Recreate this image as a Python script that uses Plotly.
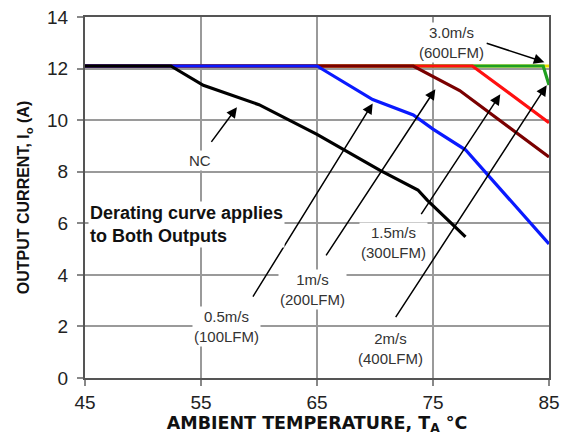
import plotly.graph_objects as go

# ---- data ----
nc_x = [45, 52.4, 55.2, 60, 65, 70.4, 73.7, 74.5, 77.8]
nc_y = [12.1, 12.1, 11.35, 10.6, 9.45, 8.06, 7.29, 6.9, 5.47]

ms05_x = [45, 65, 69.8, 73.3, 75, 77.8, 85]
ms05_y = [12.1, 12.1, 10.8, 10.2, 9.65, 8.85, 5.2]

ms1_x = [45, 73.3, 77.3, 85]
ms1_y = [12.1, 12.1, 11.15, 8.57]

ms15_x = [45, 78.4, 85]
ms15_y = [12.1, 12.1, 9.9]

ms2_x = [45, 84.5, 85]
ms2_y = [12.1, 12.1, 11.36]

ms3_x = [45, 85]
ms3_y = [12.1, 12.1]

x_ticks = [45, 55, 65, 75, 85]
y_ticks = [0, 2, 4, 6, 8, 10, 12, 14]

# draw order: bottom first
series = [
    ("3.0m/s", ms3_x, ms3_y, "#E8E000"),
    ("2m/s", ms2_x, ms2_y, "#1FA01F"),
    ("1.5m/s", ms15_x, ms15_y, "#FF1010"),
    ("1m/s", ms1_x, ms1_y, "#7A0000"),
    ("0.5m/s", ms05_x, ms05_y, "#0A1AFF"),
    ("NC", nc_x, nc_y, "#000000"),
]

fig = go.Figure()
for name, xs, ys, col in series:
    fig.add_trace(go.Scatter(x=xs, y=ys, mode="lines", name=name,
                             line=dict(color=col, width=3.2), showlegend=False))

txt_font = dict(family="Liberation Sans, Arial", size=15, color="#333333")

labels = [
    ("NC", 54.9, 8.45),
    ("0.5m/s<br>(100LFM)", 57.2, 2.0),
    ("1m/s<br>(200LFM)", 64.6, 3.45),
    ("1.5m/s<br>(300LFM)", 71.6, 5.25),
    ("2m/s<br>(400LFM)", 71.3, 1.15),
    ("3.0m/s<br>(600LFM)", 76.6, 13.0),
]
arrows = [  # tail x, tail y, tip x, tip y
    (55.8, 9.1, 58.1, 10.5),
    (59.4, 3.1, 69.8, 10.65),
    (65.7, 4.7, 75.2, 11.2),
    (73.9, 6.3, 80.8, 11.0),
    (71.7, 2.3, 84.8, 11.35),
    (79.5, 13.0, 84.6, 12.25),
]

annotations = []
for t, x, y in labels:
    annotations.append(dict(x=x, y=y, xref="x", yref="y", text=t, showarrow=False,
                            font=txt_font, bgcolor="white", borderpad=1))
for tx, ty, hx, hy in arrows:
    annotations.append(dict(x=hx, y=hy, ax=tx, ay=ty, xref="x", yref="y",
                            axref="x", ayref="y", text="", showarrow=True,
                            arrowhead=2, arrowsize=1.4, arrowwidth=1.5,
                            arrowcolor="black", standoff=0, startstandoff=0))
annotations.append(dict(x=45.3, y=5.97, xref="x", yref="y", xanchor="left",
                        text="<b>Derating curve applies<br>to Both Outputs</b>",
                        showarrow=False, align="left", bgcolor="white",
                        font=dict(family="Liberation Sans, Arial", size=18, color="#111111")))

# the page body adds an 8px offset, so the figure is sized/offset to fit the window
fig.update_layout(
    width=568, height=433,
    margin=dict(l=77, r=27, t=9, b=63, autoexpand=False),
    paper_bgcolor="white", plot_bgcolor="white",
    annotations=annotations,
    shapes=[dict(type="line", xref="x", yref="y", x0=45, x1=85, y0=10, y1=10,
                 line=dict(color="black", width=1.2), layer="below")],
)
fig.update_xaxes(
    range=[45, 85], tickvals=x_ticks, ticktext=[str(v) for v in x_ticks],
    automargin=False, ticklabeloverflow="allow",
    showgrid=True, gridcolor="#9a9a9a", gridwidth=2,
    showline=True, linecolor="#555555", linewidth=2, mirror=True,
    ticks="outside", ticklen=6, tickcolor="#888888", tickwidth=1.5,
    tickfont=dict(family="Liberation Sans, Arial", size=19, color="#222222"),
    zeroline=False,
    title=dict(text="<b>AMBIENT TEMPERATURE, T<sub>A</sub> °C</b>",
               font=dict(family="DejaVu Sans", size=17.5, color="#111111"), standoff=3),
)
fig.update_yaxes(
    range=[0, 14], tickvals=y_ticks,
    automargin=False, ticklabeloverflow="allow", ticklabelstandoff=5,
    showgrid=True, gridcolor="#9a9a9a", gridwidth=2,
    showline=True, linecolor="#555555", linewidth=2, mirror=True,
    ticks="outside", ticklen=6, tickcolor="#888888", tickwidth=1.5,
    tickfont=dict(family="Liberation Sans, Arial", size=19, color="#222222"),
    zeroline=False,
    title=dict(text="<b>OUTPUT CURRENT, I<sub>o</sub> (A)</b>",
               font=dict(family="Liberation Sans, Arial", size=16, color="#111111"), standoff=13),
)

fig.write_html("out.html")
